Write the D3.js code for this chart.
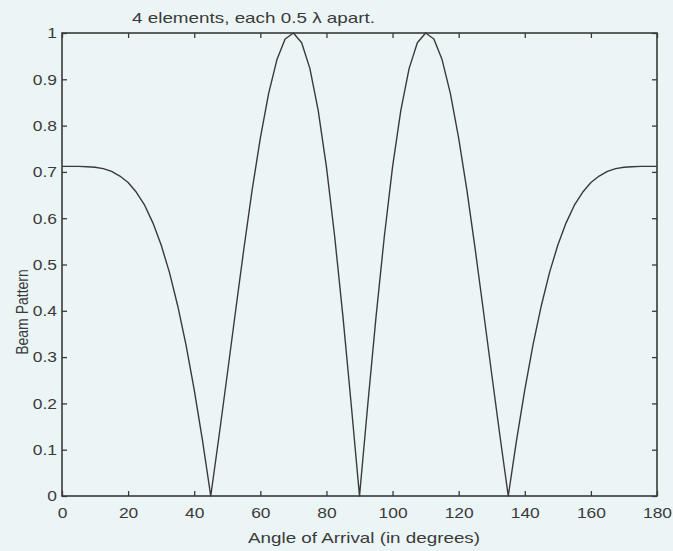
<!DOCTYPE html>
<html><head><meta charset="utf-8">
<script src="https://cdn.jsdelivr.net/npm/d3@7"></script>
<style>body{margin:0;background:#ecf5f5}svg{display:block}</style>
</head><body>
<svg id="c" width="673" height="551"></svg>
<script>
const angles = [0,2.5,5,7.5,10,12.5,15,17.5,20,22.5,25,27.5,30,32.5,35,37.5,40,42.5,45,47.5,50,52.5,55,57.5,60,62.5,65,67.5,70,72.5,75,77.5,80,82.5,85,87.5,90,
  92.5,95,97.5,100,102.5,105,107.5,110,112.5,115,117.5,120,122.5,125,127.5,130,132.5,135,137.5,140,142.5,145,147.5,150,152.5,155,157.5,160,162.5,165,167.5,170,172.5,175,177.5,180];
const beam = [0.712,0.712,0.712,0.711,0.710,0.707,0.701,0.691,0.677,0.656,0.628,0.590,0.542,0.483,0.411,0.327,0.229,0.120,0,0.129,0.263,0.399,0.533,0.660,0.773,0.869,0.942,0.987,1.000,0.979,0.923,0.833,0.711,0.560,0.387,0.197,0,
  0.197,0.387,0.560,0.711,0.833,0.923,0.979,1.000,0.987,0.942,0.869,0.773,0.660,0.533,0.399,0.263,0.129,0,0.120,0.229,0.327,0.411,0.483,0.542,0.590,0.628,0.656,0.677,0.691,0.701,0.707,0.710,0.711,0.712,0.712,0.712];
const xTicks = [0,20,40,60,80,100,120,140,160,180];
const yTicks = [0,0.1,0.2,0.3,0.4,0.5,0.6,0.7,0.8,0.9,1];
const titleText = "4 elements, each 0.5 \u03bb apart.";
const xLabel = "Angle of Arrival (in degrees)";
const yLabel = "Beam Pattern";

const ink = "#3a3a3a";
const font = "'Liberation Sans', Arial, Helvetica, sans-serif";
const stretch = 1.16;
const svg = d3.select("#c");
const x = d3.scaleLinear().domain([0,180]).range([62,657]);
const y = d3.scaleLinear().domain([0,1]).range([496,33]);

function styleAxis(g){
  g.select(".domain").remove();
  g.selectAll(".tick line").attr("stroke", ink).attr("stroke-width", 1.3);
  g.selectAll("text").attr("fill", ink).style("font-family", font).style("font-size", "15px");
}

// bottom
const gx = svg.append("g").attr("transform", "translate(0,496)")
  .call(d3.axisBottom(x).tickValues(xTicks).tickSizeInner(-5).tickSizeOuter(0).tickPadding(11).tickFormat(d3.format("d")));
styleAxis(gx);
gx.selectAll("text").attr("transform", `scale(${stretch},1)`);
// top
const gt = svg.append("g").attr("transform", "translate(0,33)")
  .call(d3.axisTop(x).tickValues(xTicks).tickSizeInner(-5).tickSizeOuter(0).tickFormat(""));
styleAxis(gt);
// left
const gy = svg.append("g").attr("transform", "translate(62,0)")
  .call(d3.axisLeft(y).tickValues(yTicks).tickSizeInner(-5).tickSizeOuter(0).tickPadding(5).tickFormat(d3.format("~g")));
styleAxis(gy);
gy.selectAll("text").attr("x", -5/stretch).attr("transform", `scale(${stretch},1)`);
// right
const gr = svg.append("g").attr("transform", "translate(657,0)")
  .call(d3.axisRight(y).tickValues(yTicks).tickSizeInner(-5).tickSizeOuter(0).tickFormat(""));
styleAxis(gr);

// frame
svg.append("rect").attr("x", x(0)).attr("y", y(1)).attr("width", x(180)-x(0)).attr("height", y(0)-y(1))
  .attr("fill", "none").attr("stroke", ink).attr("stroke-width", 1.6);

// curve
const pts = angles.map((a,i)=>[a, beam[i]]);
svg.append("path").datum(pts)
  .attr("d", d3.line().x(d=>x(d[0])).y(d=>y(d[1])))
  .attr("fill", "none").attr("stroke", ink).attr("stroke-width", 1.4).attr("stroke-linejoin", "round");

// title
svg.append("text").attr("x", 132).attr("y", 23).text(titleText)
  .attr("fill", ink).style("font-family", font).style("font-size", "15px")
  .attr("textLength", 243).attr("lengthAdjust", "spacingAndGlyphs");
// x label
svg.append("text").attr("x", 248).attr("y", 543).text(xLabel)
  .attr("fill", ink).style("font-family", font).style("font-size", "14.5px")
  .attr("textLength", 232).attr("lengthAdjust", "spacingAndGlyphs");
// y label
svg.append("text").attr("transform", "translate(28,312) rotate(-90) scale(1,1.15)")
  .attr("text-anchor", "middle").text(yLabel)
  .attr("fill", ink).style("font-family", font).style("font-size", "14px");
</script>
</body></html>
